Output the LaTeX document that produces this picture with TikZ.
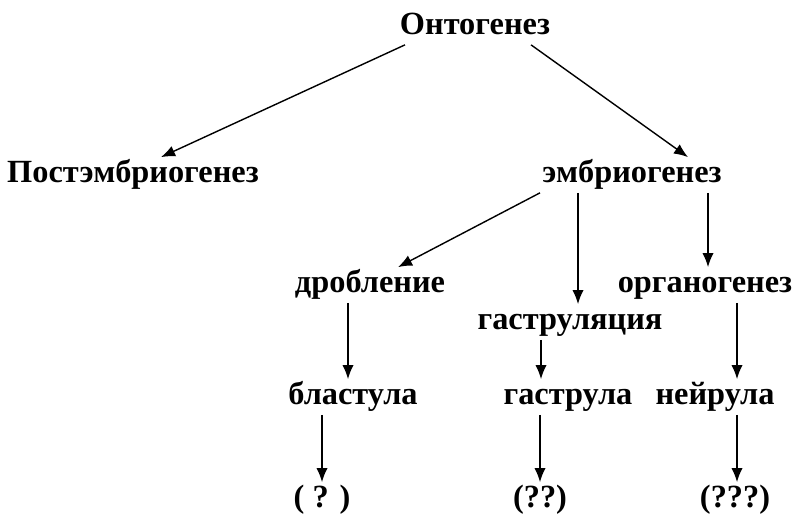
\documentclass[tikz,border=0pt]{standalone}
\usepackage{fontspec}
\setmainfont{Liberation Serif}
\usetikzlibrary{arrows.meta}
\tikzset{
	stage/.style={font=\bfseries\fontsize{23}{26}\selectfont, inner sep=3pt, text height=15pt, text depth=4pt},
	link/.style={line width=1pt, -{Latex[length=10pt,width=8pt]}}
}
\begin{document}
\begin{tikzpicture}[x=0.025cm, y=-0.025cm]
		
		\useasboundingbox (0,0) rectangle (800,530);
		
		% Uzly
		\node[stage] (onto) at (475,27) {Онтогенез};
		\node[stage] (post) at (133,175) {Постэмбриогенез};
		\node[stage] (embr) at (632,175) {эмбриогенез};
		\node[stage] (drob) at (370,285) {дробление};
		\node[stage] (gast) at (570,322) {гаструляция};
		\node[stage] (orga) at (705,285) {органогенез};
		\node[stage] (blas) at (353,397) {бластула};
		\node[stage] (gstr) at (568,397) {гаструла};
		\node[stage] (neir) at (715,397) {нейрула};
		\node[stage] (q1) at (322,500) {( ? )};
		\node[stage] (q2) at (540,500) {(??)};
		\node[stage] (q3) at (735,500) {(???)};
		
		% Šipky
		\draw[link] ([xshift=-1.75cm]onto.south) -- ([xshift=0.7cm]post.north);
		\draw[link] ([xshift=1.4cm]onto.south) -- ([xshift=1.4cm]embr.north);
		\draw[link] ([xshift=-2.3cm]embr.south) -- ([xshift=0.7cm]drob.north);
		\draw[link] (embr.south -| 578,0) -- (gast.north -| 578,0);
		\draw[link] (embr.south -| 708,0) -- (orga.north -| 708,0);
		\draw[link] (drob.south -| 348,0) -- (blas.north -| 348,0);
		\draw[link] (gast.south -| 541,0) -- (gstr.north -| 541,0);
		\draw[link] (orga.south -| 737,0) -- (neir.north -| 737,0);
		\draw[link] (blas.south -| 322,0) -- (q1.north -| 322,0);
		\draw[link] (gstr.south -| 540,0) -- (q2.north -| 540,0);
		\draw[link] (neir.south -| 737,0) -- (q3.north -| 737,0);
		
\end{tikzpicture}
\end{document}
